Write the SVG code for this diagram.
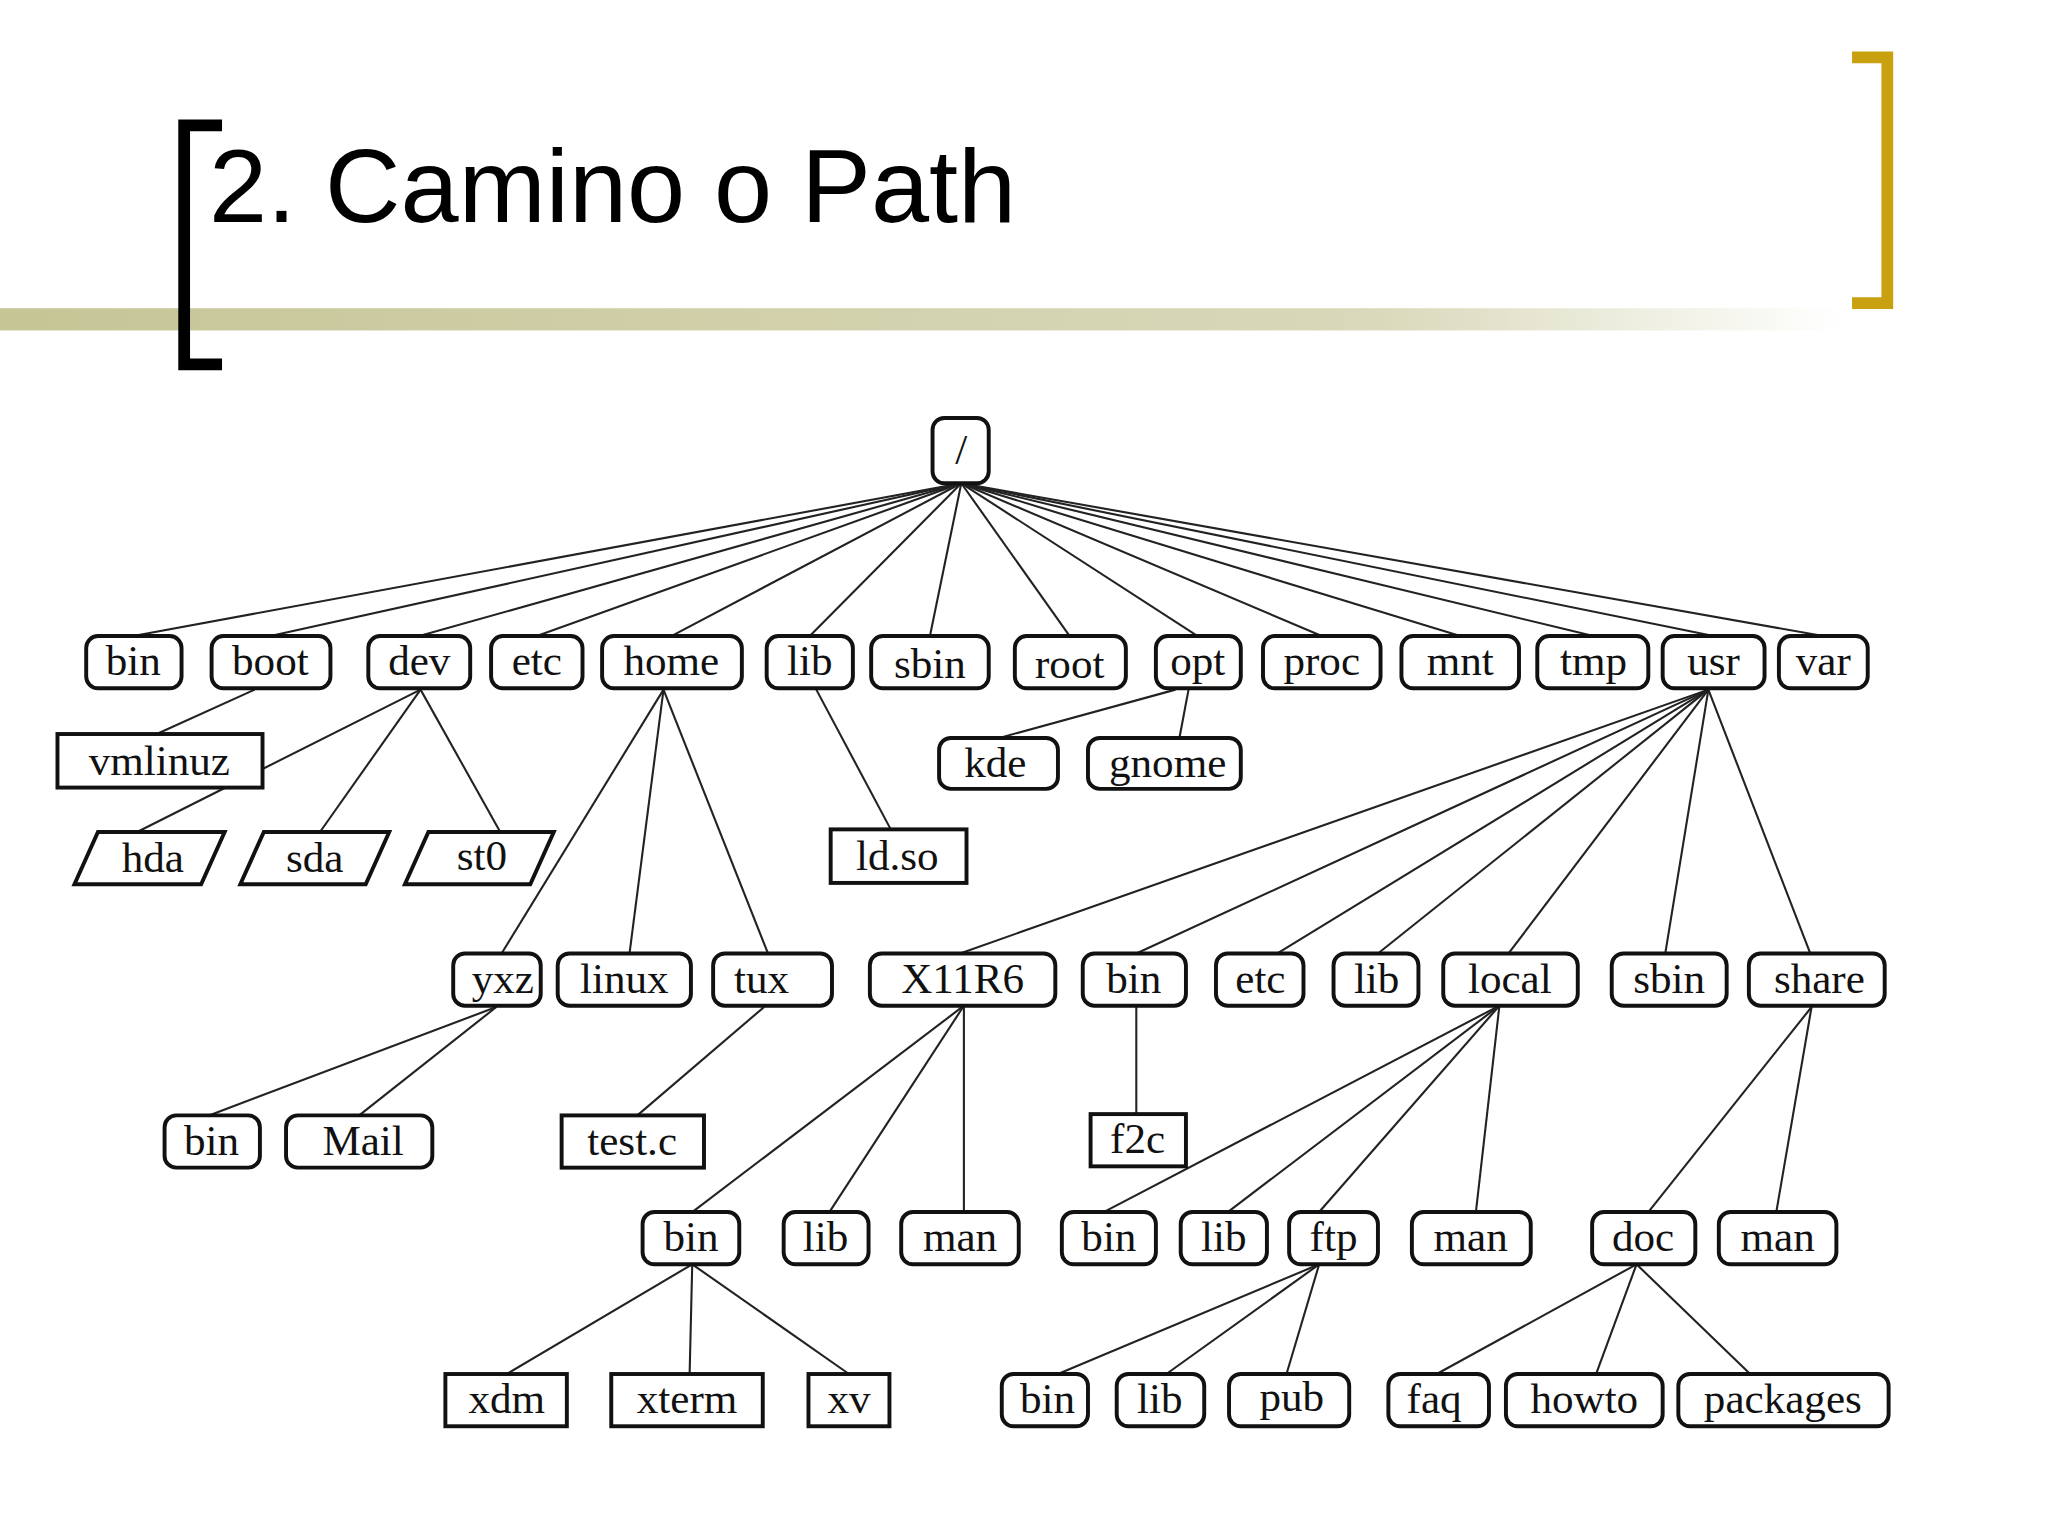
<svg xmlns="http://www.w3.org/2000/svg" width="2048" height="1536" viewBox="0 0 2048 1536">
<defs>
<linearGradient id="bar" x1="0" x2="1" y1="0" y2="0">
<stop offset="0" stop-color="#c6c596"/><stop offset="0.75" stop-color="#d9d9bb"/><stop offset="1" stop-color="#ffffff"/>
</linearGradient>
<style>
.n{fill:#fff;stroke:#111;stroke-width:3}
.t{font-family:"Liberation Serif","DejaVu Serif",serif;font-size:33px;fill:#111;text-anchor:middle}
#edges line{stroke:#222;stroke-width:1.6}
</style>
</defs>
<rect width="2048" height="1536" fill="#fff"/>
<g transform="scale(1.3061)">
<rect x="0" y="236" width="1410" height="17" fill="url(#bar)"/>
<path d="M170 96 H141 V279 H170" fill="none" stroke="#000" stroke-width="9"/>
<path d="M1418 44 H1445 V232 H1418" fill="none" stroke="#c9a010" stroke-width="9"/>
<text x="160" y="170" font-family="Liberation Sans,Arial,sans-serif" font-size="80" fill="#000">2. Camino o Path</text>
<g id="edges">
<line x1="736" y1="370" x2="102" y2="487"/><line x1="736" y1="370" x2="207" y2="487"/>
<line x1="736" y1="370" x2="321" y2="487"/><line x1="736" y1="370" x2="411" y2="487"/>
<line x1="736" y1="370" x2="514" y2="487"/><line x1="736" y1="370" x2="620" y2="487"/>
<line x1="736" y1="370" x2="712" y2="487"/><line x1="736" y1="370" x2="819" y2="487"/>
<line x1="736" y1="370" x2="917" y2="487"/><line x1="736" y1="370" x2="1012" y2="487"/>
<line x1="736" y1="370" x2="1118" y2="487"/><line x1="736" y1="370" x2="1220" y2="487"/>
<line x1="736" y1="370" x2="1312" y2="487"/><line x1="736" y1="370" x2="1396" y2="487"/>
<line x1="195" y1="528" x2="120" y2="562"/>
<line x1="322" y1="528" x2="105" y2="637"/><line x1="322" y1="528" x2="245" y2="637"/><line x1="322" y1="528" x2="383" y2="637"/>
<line x1="625" y1="528" x2="682" y2="635"/>
<line x1="900" y1="528" x2="765" y2="565"/><line x1="910" y1="528" x2="903" y2="565"/>
<line x1="508" y1="528" x2="384" y2="730"/><line x1="508" y1="528" x2="482" y2="730"/><line x1="508" y1="528" x2="588" y2="730"/>
<line x1="1308" y1="528" x2="735" y2="730"/><line x1="1308" y1="528" x2="870" y2="730"/><line x1="1308" y1="528" x2="978" y2="730"/>
<line x1="1308" y1="528" x2="1055" y2="730"/><line x1="1308" y1="528" x2="1155" y2="730"/><line x1="1308" y1="528" x2="1275" y2="730"/>
<line x1="1308" y1="528" x2="1386" y2="730"/>
<line x1="380" y1="771" x2="160" y2="854"/><line x1="380" y1="771" x2="275" y2="854"/>
<line x1="585" y1="771" x2="488" y2="854"/><line x1="870" y1="770" x2="870" y2="853"/>
<line x1="738" y1="770" x2="530" y2="928"/><line x1="738" y1="770" x2="635" y2="928"/><line x1="738" y1="770" x2="738" y2="928"/>
<line x1="1148" y1="770" x2="845" y2="928"/><line x1="1148" y1="770" x2="940" y2="928"/><line x1="1148" y1="770" x2="1010" y2="928"/><line x1="1148" y1="770" x2="1130" y2="928"/>
<line x1="1387" y1="771" x2="1262" y2="928"/><line x1="1387" y1="771" x2="1360" y2="928"/>
<line x1="530" y1="968" x2="388" y2="1052"/><line x1="530" y1="968" x2="528" y2="1052"/><line x1="530" y1="968" x2="650" y2="1052"/>
<line x1="1010" y1="968" x2="810" y2="1052"/><line x1="1010" y1="968" x2="893" y2="1052"/><line x1="1010" y1="968" x2="985" y2="1052"/>
<line x1="1253" y1="968" x2="1100" y2="1052"/><line x1="1253" y1="968" x2="1222" y2="1052"/><line x1="1253" y1="968" x2="1340" y2="1052"/>
</g>
<g id="root"><rect class="n" x="714" y="320" width="43" height="50" rx="9"/><text class="t" x="736" y="355">/</text></g>
<g id="l1">
<g id="bin"><rect class="n" x="66" y="487" width="73" height="40" rx="9"/><text class="t" x="102" y="517">bin</text></g>
<g id="boot"><rect class="n" x="162" y="487" width="91" height="40" rx="9"/><text class="t" x="207" y="517">boot</text></g>
<g id="dev"><rect class="n" x="282" y="487" width="78" height="40" rx="9"/><text class="t" x="321" y="517">dev</text></g>
<g id="etc"><rect class="n" x="376" y="487" width="70" height="40" rx="9"/><text class="t" x="411" y="517">etc</text></g>
<g id="home"><rect class="n" x="461" y="487" width="107" height="40" rx="9"/><text class="t" x="514" y="517">home</text></g>
<g id="lib"><rect class="n" x="587" y="487" width="66" height="40" rx="9"/><text class="t" x="620" y="517">lib</text></g>
<g id="sbin"><rect class="n" x="667" y="487" width="90" height="40" rx="9"/><text class="t" x="712" y="519">sbin</text></g>
<g id="rootdir"><rect class="n" x="777" y="487" width="85" height="40" rx="9"/><text class="t" x="819" y="519">root</text></g>
<g id="opt"><rect class="n" x="885" y="487" width="65" height="40" rx="9"/><text class="t" x="917" y="517">opt</text></g>
<g id="proc"><rect class="n" x="967" y="487" width="90" height="40" rx="9"/><text class="t" x="1012" y="517">proc</text></g>
<g id="mnt"><rect class="n" x="1073" y="487" width="90" height="40" rx="9"/><text class="t" x="1118" y="517">mnt</text></g>
<g id="tmp"><rect class="n" x="1177" y="487" width="85" height="40" rx="9"/><text class="t" x="1220" y="517">tmp</text></g>
<g id="usr"><rect class="n" x="1273" y="487" width="78" height="40" rx="9"/><text class="t" x="1312" y="517">usr</text></g>
<g id="var"><rect class="n" x="1362" y="487" width="68" height="40" rx="9"/><text class="t" x="1396" y="517">var</text></g>
</g>
<g id="l2">
<g id="vmlinuz"><rect class="n" x="44" y="562" width="157" height="41"/><text class="t" x="122" y="593">vmlinuz</text></g>
<g id="hda"><polygon class="n" points="57,677 75,637 172,637 154,677"/><text class="t" x="117" y="668">hda</text></g>
<g id="sda"><polygon class="n" points="184,677 202,637 298,637 280,677"/><text class="t" x="241" y="668">sda</text></g>
<g id="st0"><polygon class="n" points="310,677 328,637 424,637 406,677"/><text class="t" x="369" y="666">st0</text></g>
<g id="kde"><rect class="n" x="719" y="565" width="91" height="39" rx="9"/><text class="t" x="762" y="595">kde</text></g>
<g id="gnome"><rect class="n" x="833" y="565" width="117" height="39" rx="9"/><text class="t" x="894" y="595">gnome</text></g>
<g id="ldso"><rect class="n" x="636" y="635" width="104" height="41"/><text class="t" x="687" y="666">ld.so</text></g>
</g>
<g id="l3">
<g id="yxz"><rect class="n" x="347" y="730" width="67" height="40" rx="9"/><text class="t" x="385" y="760">yxz</text></g>
<g id="linux"><rect class="n" x="427" y="730" width="102" height="40" rx="9"/><text class="t" x="478" y="760">linux</text></g>
<g id="tux"><rect class="n" x="546" y="730" width="91" height="40" rx="9"/><text class="t" x="583" y="760">tux</text></g>
<g id="X11R6"><rect class="n" x="666" y="730" width="142" height="40" rx="9"/><text class="t" x="737" y="760">X11R6</text></g>
<g id="ubin"><rect class="n" x="829" y="730" width="79" height="40" rx="9"/><text class="t" x="868" y="760">bin</text></g>
<g id="uetc"><rect class="n" x="931" y="730" width="67" height="40" rx="9"/><text class="t" x="965" y="760">etc</text></g>
<g id="ulib"><rect class="n" x="1021" y="730" width="65" height="40" rx="9"/><text class="t" x="1054" y="760">lib</text></g>
<g id="local"><rect class="n" x="1105" y="730" width="103" height="40" rx="9"/><text class="t" x="1156" y="760">local</text></g>
<g id="usbin"><rect class="n" x="1234" y="730" width="88" height="40" rx="9"/><text class="t" x="1278" y="760">sbin</text></g>
<g id="share"><rect class="n" x="1339" y="730" width="104" height="40" rx="9"/><text class="t" x="1393" y="760">share</text></g>
</g>
<g id="l4">
<g id="ybin"><rect class="n" x="126" y="854" width="73" height="40" rx="9"/><text class="t" x="162" y="884">bin</text></g>
<g id="Mail"><rect class="n" x="219" y="854" width="112" height="40" rx="9"/><text class="t" x="278" y="884">Mail</text></g>
<g id="testc"><rect class="n" x="430" y="854" width="109" height="40"/><text class="t" x="484" y="884">test.c</text></g>
<g id="f2c"><rect class="n" x="835" y="853" width="73" height="40"/><text class="t" x="871" y="883">f2c</text></g>
</g>
<g id="l5">
<g id="xbin"><rect class="n" x="492" y="928" width="74" height="40" rx="9"/><text class="t" x="529" y="958">bin</text></g>
<g id="xlib"><rect class="n" x="600" y="928" width="65" height="40" rx="9"/><text class="t" x="632" y="958">lib</text></g>
<g id="xman"><rect class="n" x="690" y="928" width="90" height="40" rx="9"/><text class="t" x="735" y="958">man</text></g>
<g id="lbin"><rect class="n" x="813" y="928" width="72" height="40" rx="9"/><text class="t" x="849" y="958">bin</text></g>
<g id="llib"><rect class="n" x="904" y="928" width="66" height="40" rx="9"/><text class="t" x="937" y="958">lib</text></g>
<g id="ftp"><rect class="n" x="987" y="928" width="68" height="40" rx="9"/><text class="t" x="1021" y="958">ftp</text></g>
<g id="lman"><rect class="n" x="1081" y="928" width="91" height="40" rx="9"/><text class="t" x="1126" y="958">man</text></g>
<g id="doc"><rect class="n" x="1219" y="928" width="79" height="40" rx="9"/><text class="t" x="1258" y="958">doc</text></g>
<g id="sman"><rect class="n" x="1316" y="928" width="90" height="40" rx="9"/><text class="t" x="1361" y="958">man</text></g>
</g>
<g id="l6">
<g id="xdm"><rect class="n" x="341" y="1052" width="93" height="40"/><text class="t" x="388" y="1082">xdm</text></g>
<g id="xterm"><rect class="n" x="468" y="1052" width="116" height="40"/><text class="t" x="526" y="1082">xterm</text></g>
<g id="xv"><rect class="n" x="619" y="1052" width="62" height="40"/><text class="t" x="650" y="1082">xv</text></g>
<g id="fbin"><rect class="n" x="767" y="1052" width="66" height="40" rx="9"/><text class="t" x="802" y="1082">bin</text></g>
<g id="flib"><rect class="n" x="855" y="1052" width="67" height="40" rx="9"/><text class="t" x="888" y="1082">lib</text></g>
<g id="pub"><rect class="n" x="941" y="1052" width="92" height="40" rx="9"/><text class="t" x="989" y="1080">pub</text></g>
<g id="faq"><rect class="n" x="1063" y="1052" width="77" height="40" rx="9"/><text class="t" x="1098" y="1082">faq</text></g>
<g id="howto"><rect class="n" x="1153" y="1052" width="120" height="40" rx="9"/><text class="t" x="1213" y="1082">howto</text></g>
<g id="packages"><rect class="n" x="1285" y="1052" width="161" height="40" rx="9"/><text class="t" x="1365" y="1082">packages</text></g>
</g>
</g>
</svg>
